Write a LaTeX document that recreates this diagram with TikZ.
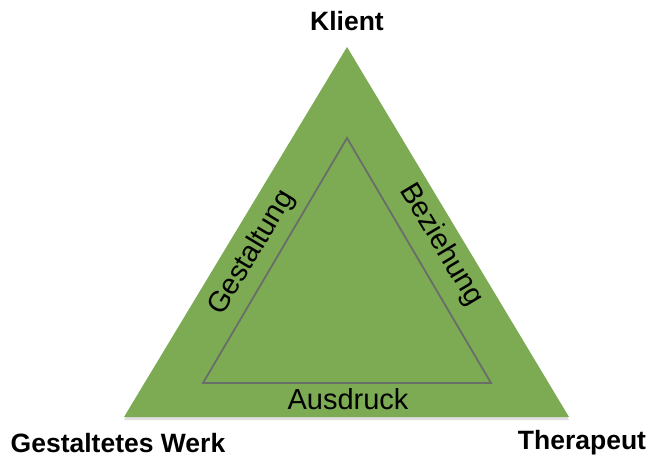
\documentclass[tikz,border=0pt]{standalone}
\usepackage{fontspec}
\setmainfont{Liberation Sans}
\usetikzlibrary{shadows}
\definecolor{triGreen}{RGB}{124,171,84}
\definecolor{innerGray}{RGB}{105,110,105}
\tikzset{
  corner/.style={font=\fontsize{26.5}{30}\selectfont\bfseries, inner sep=0pt},
  sidelabel/.style={font=\fontsize{29}{33}\selectfont, inner sep=0pt},
}
\begin{document}
\begin{tikzpicture}[x=1pt,y=1pt]
\useasboundingbox (0,0) rectangle (663,459);
\coordinate (A) at (347,412);
\coordinate (L) at (124,42);
\coordinate (R) at (569,42);
\coordinate (a) at (347,321);
\coordinate (l) at (203,76);
\coordinate (r) at (491,76);
\fill[triGreen, drop shadow={shadow xshift=0pt, shadow yshift=-3pt, opacity=0.25}] (A) -- (L) -- (R) -- cycle;
\draw[innerGray, line width=1.8pt, line join=miter] (a) -- (l) -- (r) -- cycle;
\node[corner] (klient) at (347,438) {Klient};
\node[corner] (werk) at (118,16) {Gestaltetes Werk};
\node[corner] (therapeut) at (582,16) {Therapeut};
\node[sidelabel] (ausdruck) at (348,60) {Ausdruck};
\node[sidelabel, rotate=59] (gestaltung) at (252,206) {Gestaltung};
\node[sidelabel, rotate=-59] (beziehung) at (441,214) {Beziehung};
\end{tikzpicture}
\end{document}
